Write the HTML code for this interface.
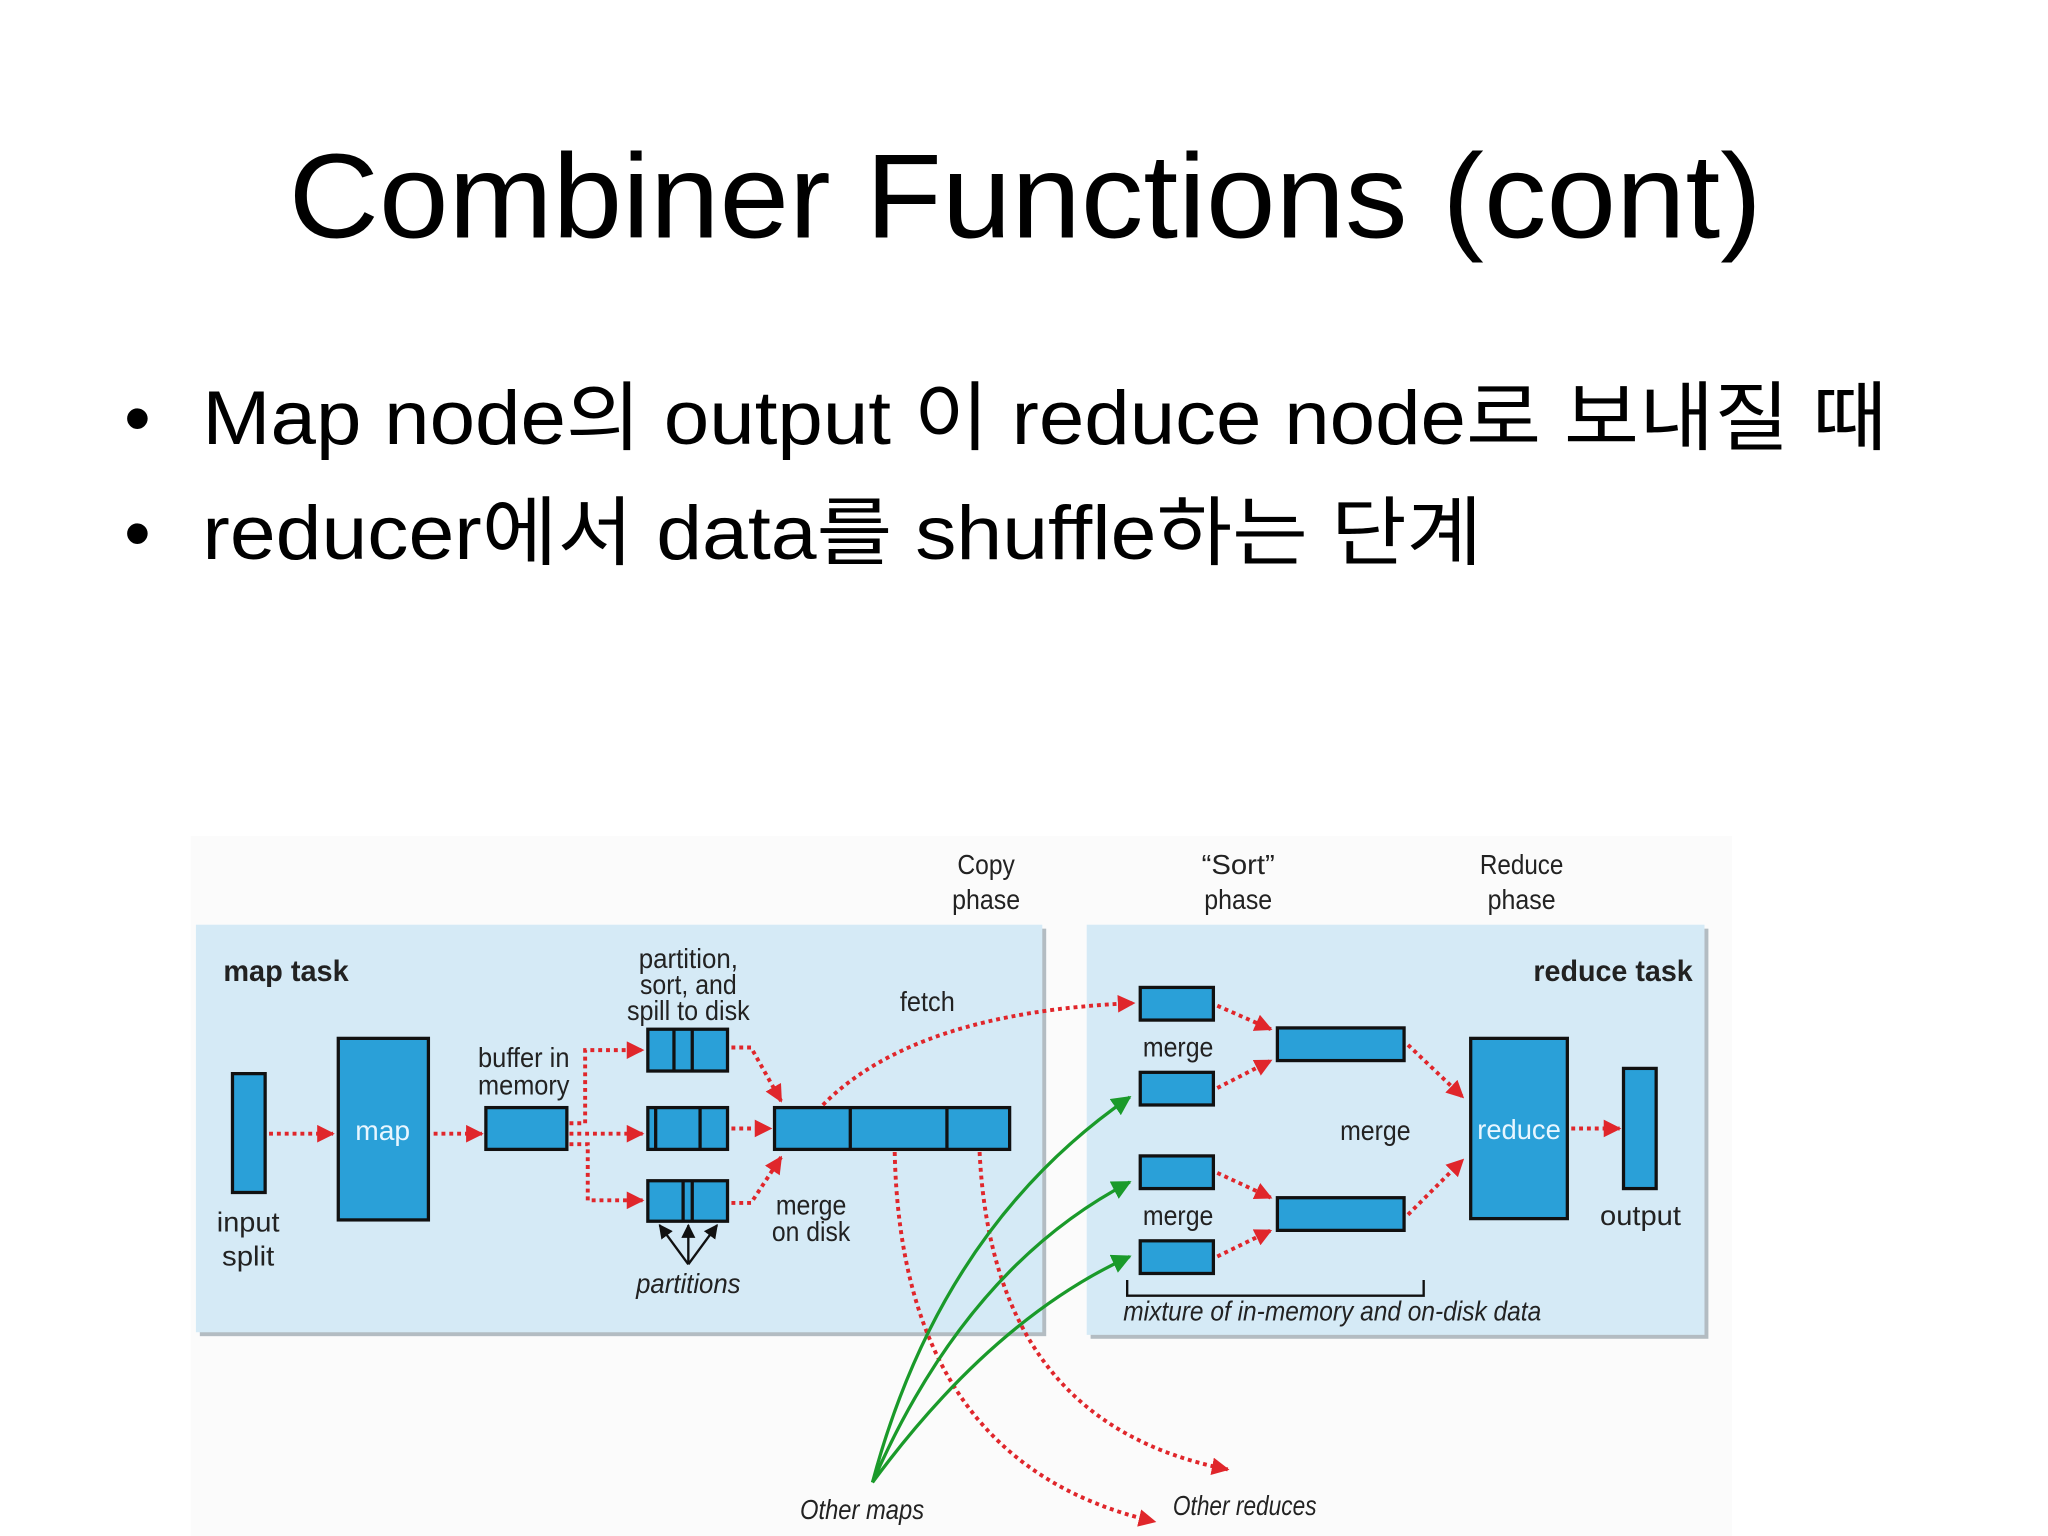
<!DOCTYPE html>
<html><head><meta charset="utf-8"><style>
html,body{margin:0;padding:0;background:#fff;}
svg{display:block;}
</style></head><body>
<svg width="2048" height="1536" viewBox="0 0 1568 1176" xmlns="http://www.w3.org/2000/svg">
<defs>
<marker id="ra" viewBox="0 0 10 10" refX="9" refY="5" markerWidth="4.5" markerHeight="4.5" orient="auto" markerUnits="strokeWidth"><path d="M0,0 L10,5 L0,10 z" fill="#e0262b"/></marker>
<marker id="ga" viewBox="0 0 10 10" refX="9" refY="5" markerWidth="6" markerHeight="6" orient="auto" markerUnits="strokeWidth"><path d="M0,0 L10,5 L0,10 z" fill="#1a9a2a"/></marker>
<marker id="ka" viewBox="0 0 10 10" refX="9" refY="5" markerWidth="6" markerHeight="6" orient="auto" markerUnits="strokeWidth"><path d="M0,0 L10,5 L0,10 z" fill="#111"/></marker>
</defs>
<rect width="1568" height="1176" fill="#fff"/>
<rect x="146" y="640" width="1180" height="536" fill="#fbfbfb"/>
<text x="785" y="182" font-family="Liberation Sans, sans-serif" font-size="92" text-anchor="middle" textLength="1128" lengthAdjust="spacingAndGlyphs">Combiner Functions (cont)</text>
<g font-family="Liberation Sans, 'Noto Sans CJK KR', sans-serif" font-size="58">
<text x="95" y="340">•</text>
<text x="155" y="340" textLength="1290" lengthAdjust="spacingAndGlyphs">Map node의 output 이 reduce node로 보내질 때</text>
<text x="95" y="428">•</text>
<text x="155" y="428" textLength="980" lengthAdjust="spacingAndGlyphs">reducer에서 data를 shuffle하는 단계</text>
</g>
<!-- boxes -->
<rect x="153" y="711" width="648" height="312" fill="#b3bcc2"/>
<rect x="150" y="708" width="648" height="312" fill="#d5eaf6"/>
<rect x="835" y="711" width="473" height="314" fill="#b3bcc2"/>
<rect x="832" y="708" width="473" height="314" fill="#d5eaf6"/>
<g fill="#2aa0d8" stroke="#111" stroke-width="2.5">
<rect x="178" y="822" width="25" height="91"/>
<rect x="259" y="795" width="69" height="139"/>
<rect x="372" y="848" width="62" height="32"/>
<rect x="496" y="788" width="61" height="32"/>
<rect x="496" y="848" width="61" height="32"/>
<rect x="496" y="904" width="61" height="31"/>
<rect x="593" y="848" width="180" height="32"/>
<rect x="873" y="756" width="56" height="25"/>
<rect x="873" y="821" width="56" height="25"/>
<rect x="873" y="885" width="56" height="25"/>
<rect x="873" y="950" width="56" height="25"/>
<rect x="978" y="787" width="97" height="25"/>
<rect x="978" y="917" width="97" height="25"/>
<rect x="1126" y="795" width="74" height="138"/>
<rect x="1243" y="818" width="25" height="92"/>
</g>
<g stroke="#111" stroke-width="2.5">
<line x1="516" y1="788" x2="516" y2="820"/><line x1="530" y1="788" x2="530" y2="820"/>
<line x1="502" y1="848" x2="502" y2="880"/><line x1="536" y1="848" x2="536" y2="880"/>
<line x1="523" y1="904" x2="523" y2="935"/><line x1="530" y1="904" x2="530" y2="935"/>
<line x1="651" y1="848" x2="651" y2="880"/><line x1="725" y1="848" x2="725" y2="880"/>
</g>
<!-- red dotted -->
<g fill="none" stroke="#e0262b" stroke-width="3" stroke-dasharray="3,3">
<path d="M206 868 H255" marker-end="url(#ra)"/>
<path d="M332 868 H369" marker-end="url(#ra)"/>
<path d="M436 868 H492" marker-end="url(#ra)"/>
<path d="M436 860 H448 V804 H492" marker-end="url(#ra)"/>
<path d="M436 876 H450 V919 H492" marker-end="url(#ra)"/>
<path d="M560 802 H575 L598 843" marker-end="url(#ra)"/>
<path d="M560 864 H590" marker-end="url(#ra)"/>
<path d="M560 921 H575 L598 886" marker-end="url(#ra)"/>
<path d="M630 846 Q700 775 868 768" marker-end="url(#ra)"/>
<path d="M685 882 Q690 1120 884 1165" marker-end="url(#ra)"/>
<path d="M750 882 Q760 1090 940 1125" marker-end="url(#ra)"/>
<path d="M932 770 L973 788" marker-end="url(#ra)"/>
<path d="M932 833 L973 812" marker-end="url(#ra)"/>
<path d="M932 898 L973 917" marker-end="url(#ra)"/>
<path d="M932 962 L973 942" marker-end="url(#ra)"/>
<path d="M1078 800 L1120 840" marker-end="url(#ra)"/>
<path d="M1078 930 L1120 888" marker-end="url(#ra)"/>
<path d="M1203 864 H1240" marker-end="url(#ra)"/>
</g>
<!-- green -->
<g fill="none" stroke="#1a9a2a" stroke-width="2.5">
<path d="M668 1135 Q720 940 865 840" marker-end="url(#ga)"/>
<path d="M668 1135 Q740 970 865 905" marker-end="url(#ga)"/>
<path d="M668 1135 Q760 1010 865 962" marker-end="url(#ga)"/>
</g>
<g stroke="#111" stroke-width="1.8" fill="none">
<path d="M527 968 L505 938" marker-end="url(#ka)"/>
<path d="M527 968 L527 938" marker-end="url(#ka)"/>
<path d="M527 968 L549 938" marker-end="url(#ka)"/>
<path d="M863 980 V992 H1090 V980"/>
</g>
<g font-family="Liberation Sans, sans-serif" font-size="21" fill="#222" text-anchor="middle" lengthAdjust="spacingAndGlyphs">
<text x="219" y="751" font-weight="bold" font-size="23" textLength="96" lengthAdjust="spacingAndGlyphs">map task</text>
<text x="1235" y="751" font-weight="bold" font-size="23" textLength="122" lengthAdjust="spacingAndGlyphs">reduce task</text>
<text x="190" y="943" textLength="48" lengthAdjust="spacingAndGlyphs">input</text><text x="190" y="969" textLength="40" lengthAdjust="spacingAndGlyphs">split</text>
<text x="293" y="873" fill="#e8f6ff" textLength="42" lengthAdjust="spacingAndGlyphs">map</text>
<text x="401" y="817" textLength="70" lengthAdjust="spacingAndGlyphs">buffer in</text><text x="401" y="838" textLength="70" lengthAdjust="spacingAndGlyphs">memory</text>
<text x="527" y="741" textLength="76" lengthAdjust="spacingAndGlyphs">partition,</text><text x="527" y="761" textLength="74" lengthAdjust="spacingAndGlyphs">sort, and</text><text x="527" y="781" textLength="94" lengthAdjust="spacingAndGlyphs">spill to disk</text>
<text x="710" y="774" textLength="42" lengthAdjust="spacingAndGlyphs">fetch</text>
<text x="621" y="930" textLength="54" lengthAdjust="spacingAndGlyphs">merge</text><text x="621" y="950" textLength="60" lengthAdjust="spacingAndGlyphs">on disk</text>
<text x="527" y="990" font-style="italic" textLength="80" lengthAdjust="spacingAndGlyphs">partitions</text>
<text x="755" y="669" textLength="44" lengthAdjust="spacingAndGlyphs">Copy</text><text x="755" y="696" textLength="52" lengthAdjust="spacingAndGlyphs">phase</text>
<text x="948" y="669" textLength="56" lengthAdjust="spacingAndGlyphs">“Sort”</text><text x="948" y="696" textLength="52" lengthAdjust="spacingAndGlyphs">phase</text>
<text x="1165" y="669" textLength="64" lengthAdjust="spacingAndGlyphs">Reduce</text><text x="1165" y="696" textLength="52" lengthAdjust="spacingAndGlyphs">phase</text>
<text x="902" y="809" textLength="54" lengthAdjust="spacingAndGlyphs">merge</text><text x="902" y="938" textLength="54" lengthAdjust="spacingAndGlyphs">merge</text><text x="1053" y="873" textLength="54" lengthAdjust="spacingAndGlyphs">merge</text>
<text x="1163" y="872" fill="#e8f6ff" textLength="64" lengthAdjust="spacingAndGlyphs">reduce</text>
<text x="1256" y="938" textLength="62" lengthAdjust="spacingAndGlyphs">output</text>
<text x="1020" y="1011" font-style="italic" textLength="320" lengthAdjust="spacingAndGlyphs">mixture of in-memory and on-disk data</text>
<text x="660" y="1163" font-style="italic" textLength="95" lengthAdjust="spacingAndGlyphs">Other maps</text>
<text x="953" y="1160" font-style="italic" textLength="110" lengthAdjust="spacingAndGlyphs">Other reduces</text>
</g>
</svg>
</body></html>
